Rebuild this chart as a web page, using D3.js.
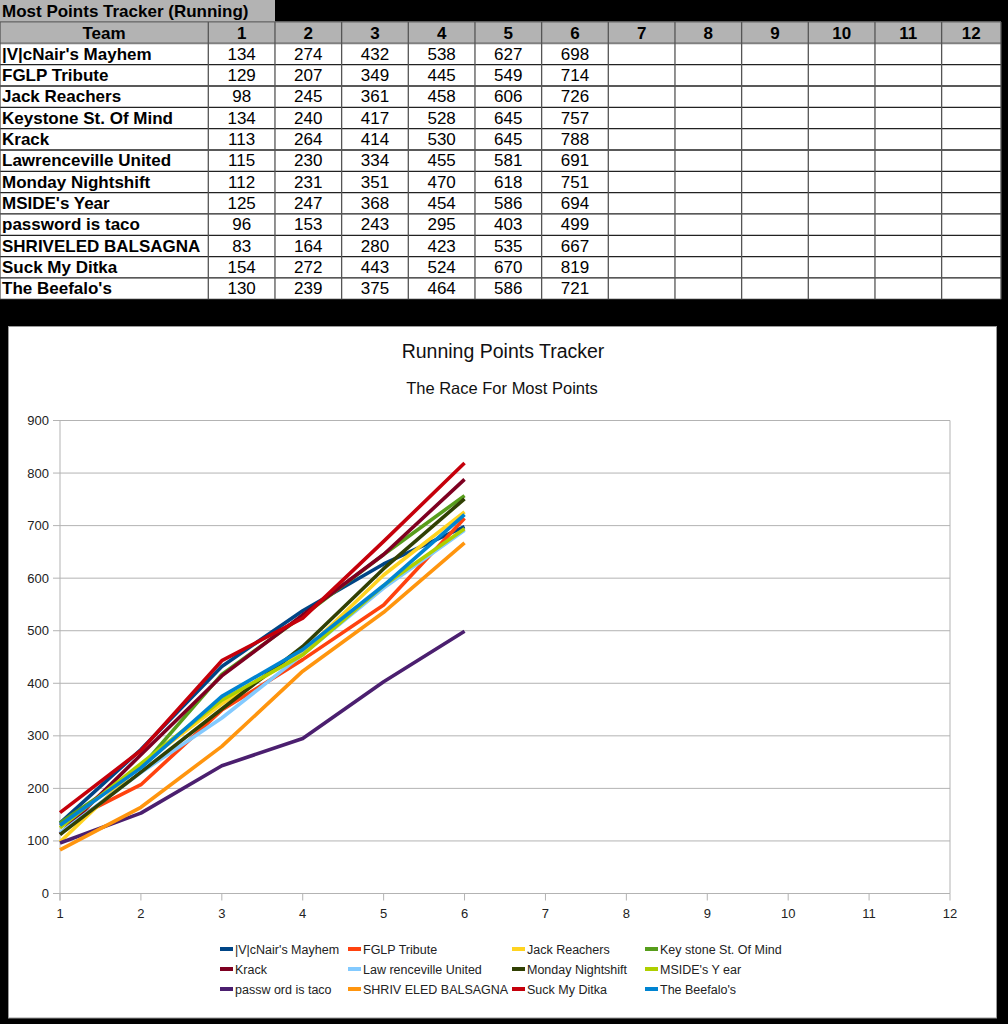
<!DOCTYPE html>
<html><head><meta charset="utf-8">
<script src="https://cdn.jsdelivr.net/npm/d3@7"></script>
<style>
html,body{margin:0;padding:0;background:#000;}
svg{display:block;}
text{font-family:"Liberation Sans",Arial,sans-serif;}
</style></head><body>
<svg id="c" width="1008" height="1024"></svg>
<script>
const tableTitle = "Most Points Tracker (Running)";
const chartTitle = "Running Points Tracker";
const chartSubtitle = "The Race For Most Points";
const weeks = [1,2,3,4,5,6,7,8,9,10,11,12];
const teams = ["|V|cNair's Mayhem","FGLP Tribute","Jack Reachers","Keystone St. Of Mind","Krack","Lawrenceville United","Monday Nightshift","MSIDE's Year","password is taco","SHRIVELED BALSAGNA","Suck My Ditka","The Beefalo's"];
const legendLabels = ["|V|cNair's Mayhem","FGLP Tribute","Jack Reachers","Key stone St. Of Mind","Krack","Law renceville United","Monday Nightshift","MSIDE's Y ear","passw ord is taco","SHRIV ELED BALSAGNA","Suck My Ditka","The Beefalo's"];
const mcnair = [134,274,432,538,627,698];
const fglp = [129,207,349,445,549,714];
const jack = [98,245,361,458,606,726];
const keystone = [134,240,417,528,645,757];
const krack = [113,264,414,530,645,788];
const lawrenceville = [115,230,334,455,581,691];
const monday = [112,231,351,470,618,751];
const mside = [125,247,368,454,586,694];
const taco = [96,153,243,295,403,499];
const shriveled = [83,164,280,423,535,667];
const ditka = [154,272,443,524,670,819];
const beefalo = [130,239,375,464,586,721];
const series = [mcnair,fglp,jack,keystone,krack,lawrenceville,monday,mside,taco,shriveled,ditka,beefalo];
const colors = ["#004586","#ff420e","#ffd320","#579d1c","#7e0021","#83caff","#314004","#aecf00","#4b1f6f","#ff950e","#c5000b","#0084d1"];
const yTicks = [0,100,200,300,400,500,600,700,800,900];

const svg = d3.select("#c");
svg.append("rect").attr("width",1008).attr("height",1024).attr("fill","#000");

// ---------- TABLE ----------
const colX = d3.scaleLinear().domain([0,12]).range([208.3,1008.3]);
const tbl = svg.append("g");
// title cell
tbl.append("rect").attr("x",0).attr("y",0).attr("width",275).attr("height",21.5).attr("fill","#b3b3b3");
tbl.append("text").attr("x",2).attr("y",17).attr("font-size",17).attr("font-weight","bold").attr("fill","#000").text(tableTitle);
const rowTop = 22, rowH = 21.33;
const tableRight = 1001;
// header
tbl.append("rect").attr("x",0).attr("y",rowTop).attr("width",tableRight).attr("height",rowH).attr("fill","#b3b3b3");
// body
tbl.append("rect").attr("x",0).attr("y",rowTop+rowH).attr("width",tableRight).attr("height",rowH*12).attr("fill","#fff");
// header text
tbl.append("text").attr("x",104).attr("y",rowTop+16.5).attr("text-anchor","middle").attr("font-size",17).attr("font-weight","bold").text("Team");
weeks.forEach((w,i)=>{
  const cx = (colX(i)+Math.min(colX(i+1),tableRight))/2;
  tbl.append("text").attr("x",cx).attr("y",rowTop+16.5).attr("text-anchor","middle").attr("font-size",17).attr("font-weight","bold").text(w);
});
// rows
teams.forEach((t,r)=>{
  const y = rowTop+rowH*(r+1);
  tbl.append("text").attr("x",2).attr("y",y+16.5).attr("font-size",17).attr("font-weight","bold").text(t);
  series[r].forEach((v,i)=>{
    const cx = (colX(i)+colX(i+1))/2;
    tbl.append("text").attr("x",cx).attr("y",y+16.5).attr("text-anchor","middle").attr("font-size",17).text(v);
  });
});
// grid lines
for(let r=0;r<=13;r++){
  const y = rowTop+rowH*r;
  tbl.append("line").attr("x1",0).attr("x2",tableRight).attr("y1",y).attr("y2",y)
    .attr("stroke", r<=1 ? "#808080" : "#222").attr("stroke-width", r===1?2:1.3);
}
const vx = [0].concat(weeks.map((w,i)=>colX(i))).concat([tableRight]);
vx.forEach(x=>{
  tbl.append("line").attr("x1",x).attr("x2",x).attr("y1",rowTop).attr("y2",rowTop+rowH*13)
    .attr("stroke","#555").attr("stroke-width",1.3);
});

// ---------- CHART ----------
svg.append("rect").attr("x",8.5).attr("y",326.5).attr("width",988).attr("height",691.5)
  .attr("fill","#fff").attr("stroke","#9a9a9a").attr("stroke-width",1);

const x = d3.scaleLinear().domain([1,12]).range([60,950]);
const y = d3.scaleLinear().domain([0,900]).range([893.5,420.5]);

svg.append("text").attr("x",503).attr("y",358).attr("text-anchor","middle").attr("font-size",19.5).attr("fill","#111").text(chartTitle);
svg.append("text").attr("x",502).attr("y",394).attr("text-anchor","middle").attr("font-size",16.5).attr("fill","#111").text(chartSubtitle);

// gridlines
const g = svg.append("g");
g.selectAll("line.grid").data(yTicks).join("line")
  .attr("x1",53).attr("x2",950).attr("y1",d=>y(d)).attr("y2",d=>y(d))
  .attr("stroke","#b3b3b3").attr("stroke-width",1);
// y axis line + right frame
g.append("line").attr("x1",60).attr("x2",60).attr("y1",y(900)).attr("y2",y(0)+7).attr("stroke","#b3b3b3");
g.append("line").attr("x1",950).attr("x2",950).attr("y1",y(900)).attr("y2",y(0)).attr("stroke","#b3b3b3");
// x ticks
g.selectAll("line.xt").data(weeks).join("line")
  .attr("x1",d=>x(d)).attr("x2",d=>x(d)).attr("y1",y(0)).attr("y2",y(0)+7)
  .attr("stroke","#b3b3b3");
// labels
g.selectAll("text.yl").data(yTicks).join("text")
  .attr("x",49).attr("y",d=>y(d)+4.5).attr("text-anchor","end").attr("font-size",13).attr("fill","#222").text(d=>d);
g.selectAll("text.xl").data(weeks).join("text")
  .attr("x",d=>x(d)).attr("y",918).attr("text-anchor","middle").attr("font-size",13).attr("fill","#222").text(d=>d);

// lines
const line = d3.line().x((d,i)=>x(weeks[i])).y(d=>y(d));
svg.append("g").selectAll("path").data(series).join("path")
  .attr("d",d=>line(d)).attr("fill","none").attr("stroke",(d,i)=>colors[i])
  .attr("stroke-width",3.6).attr("stroke-linejoin","round").attr("stroke-linecap","butt");

// legend
const legColX = [220,348,512,645];
const legRowY = [949,969,989];
const leg = svg.append("g");
teams.forEach((t,i)=>{
  const lx = legColX[i%4], ly = legRowY[Math.floor(i/4)];
  leg.append("rect").attr("x",lx).attr("y",ly-2).attr("width",13).attr("height",4).attr("fill",colors[i]);
  leg.append("text").attr("x",lx+15).attr("y",ly+4.5).attr("font-size",12.5).attr("fill","#222").text(legendLabels[i]);
});
</script>
</body></html>
